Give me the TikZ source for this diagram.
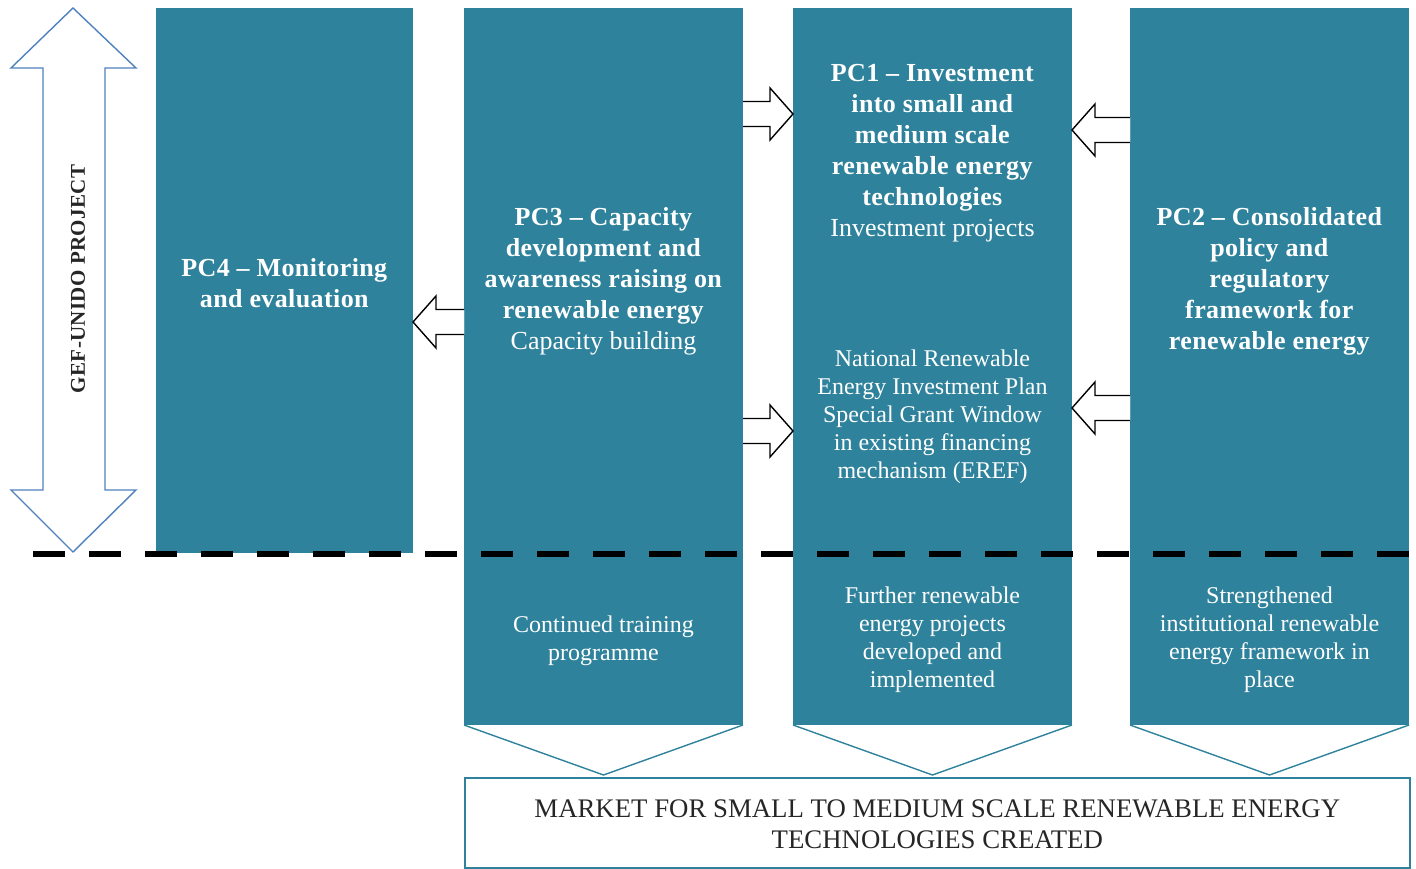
\documentclass[tikz,border=0pt]{standalone}
\usepackage{fontspec}
\setmainfont{Liberation Serif}[BoldFeatures={LetterSpace=1.5}]
\usetikzlibrary{calc}
\definecolor{teal}{RGB}{47,130,155}
\definecolor{arrowblue}{RGB}{79,129,189}
\definecolor{darktext}{RGB}{38,38,38}
\tikzset{
  col/.style={fill=teal, draw=none, inner sep=0pt, outer sep=0pt, anchor=north west},
  big/.style={font=\fontsize{26}{31}\selectfont},
  small/.style={font=\fontsize{24}{28}\selectfont},
  label/.style={text=white, align=center, inner sep=0pt},
  chev/.style={draw=teal, line width=1.4pt},
  arrowline/.style={draw=black, line width=1.4pt, fill=white, line join=miter},
  blockarr/.pic={
    \fill[white] (0,0) -- (23,-26) -- (23,-12.5) -- (#1,-12.5) -- (#1,12.5) -- (23,12.5) -- (23,26) -- cycle;
    \draw[arrowline] (#1,-12.5) -- (23,-12.5) -- (23,-26) -- (0,0) -- (23,26) -- (23,12.5) -- (#1,12.5);
  }
}
\begin{document}
\begin{tikzpicture}[x=1pt, y=-1pt]
\useasboundingbox (0,0) rectangle (1416,869);

% columns
\node[col, minimum width=257pt, minimum height=545pt] (c4) at (156,8) {};
\node[col, minimum width=279pt, minimum height=717pt] (c3) at (464,8) {};
\node[col, minimum width=279pt, minimum height=717pt] (c1) at (793,8) {};
\node[col, minimum width=279pt, minimum height=717pt] (c2) at (1130,8) {};

% market box
\node[draw=teal, line width=1.6pt, fill=white, inner sep=0pt, anchor=north west,
      minimum width=945pt, minimum height=90pt] (market) at (464,777) {};
\node[font=\fontsize{26.8}{31}\selectfont, text=darktext, align=center, inner sep=0pt] (markettext) at ($(market.center)+(0,1)$)
  {MARKET FOR SMALL TO MEDIUM SCALE RENEWABLE ENERGY\\TECHNOLOGIES CREATED};

% chevrons from columns to market
\foreach \c in {c3,c1,c2}{
  \draw[chev] (\c.south west) -- ($(\c.south |- market.north)+(0,-2)$) -- (\c.south east);
}

% column texts
\node[label, big] (t4) at (284.5,283) {\textbf{PC4 – Monitoring}\\\textbf{and evaluation}};
\node[label, big] (t3) at (603.5,281) {\textbf{PC3 – Capacity}\\\textbf{development and}\\\textbf{awareness raising on}\\\textbf{renewable energy}\\Capacity building};
\node[label, big] (t1) at (932.5,153) {\textbf{PC1 – Investment}\\\textbf{into small and}\\\textbf{medium scale}\\\textbf{renewable energy}\\\textbf{technologies}\\Investment projects};
\node[label, small] (t1b) at (932.5,417) {National Renewable\\Energy Investment Plan\\Special Grant Window\\in existing financing\\mechanism (EREF)};
\node[label, big] (t2) at (1269.5,281) {\textbf{PC2 – Consolidated}\\\textbf{policy and}\\\textbf{regulatory}\\\textbf{framework for}\\\textbf{renewable energy}};

\node[label, small] (o3) at (603.5,641) {Continued training\\programme};
\node[label, small] (o1) at (932.5,640) {Further renewable\\energy projects\\developed and\\implemented};
\node[label, small] (o2) at (1269.5,640) {Strengthened\\institutional renewable\\energy framework in\\place};

% block arrows between columns
\pic at (c4.east |- 0,322) {blockarr=51};
\pic[xscale=-1] at (c1.west |- 0,114) {blockarr=50};
\pic[xscale=-1] at (c1.west |- 0,431) {blockarr=50};
\pic at (c1.east |- 0,130) {blockarr=58};
\pic at (c1.east |- 0,408) {blockarr=58};

% project-span double arrow
\draw[draw=arrowblue, line width=1.4pt, fill=white, line join=miter]
  (73,8) -- (136,68) -- (105,68) -- (105,490) -- (136,490) -- (73,552)
  -- (11,490) -- (43,490) -- (43,68) -- (11,68) -- cycle;
\node[rotate=90, font=\fontsize{21}{25}\selectfont\bfseries, text=darktext, inner sep=0pt] (gef) at (78,279) {GEF-UNIDO PROJECT};

% project boundary
\coordinate (dl) at (33,554);
\coordinate (dr) at (1412,554);
\draw[line width=6pt, dash pattern=on 32pt off 24pt] (dl) -- (dr);
\end{tikzpicture}
\end{document}
